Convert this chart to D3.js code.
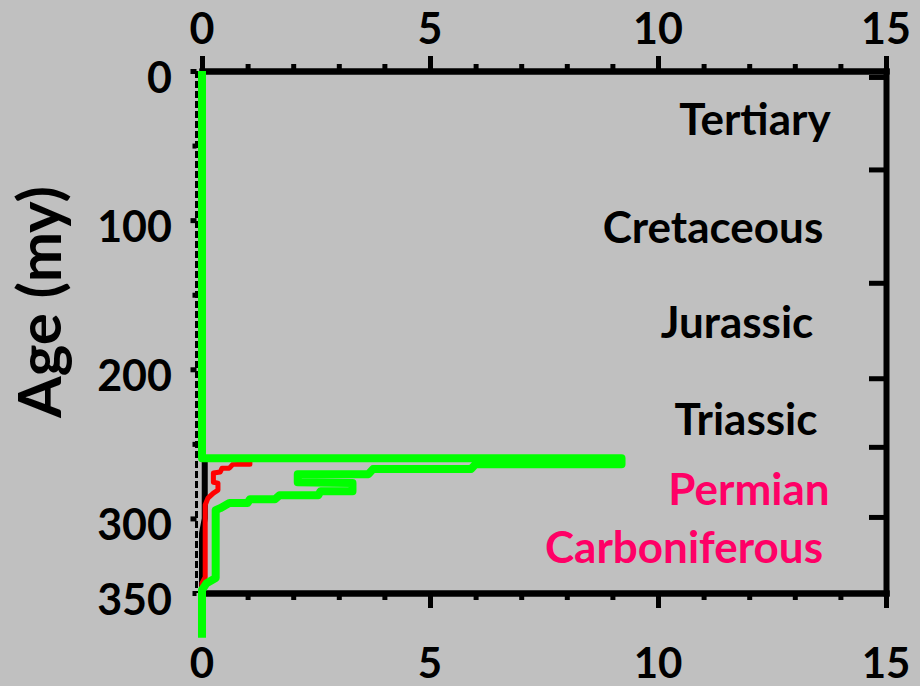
<!DOCTYPE html>
<html>
<head>
<meta charset="utf-8">
<script src="https://cdn.jsdelivr.net/npm/d3@7"></script>
<style>
  html, body { margin: 0; padding: 0; background: #c0c0c0; }
  svg { display: block; }
  text { font-family: Lato, "Noto Sans", sans-serif; font-weight: 700; }
</style>
</head>
<body>
<svg id="chart" width="920" height="686"></svg>
<script>
// Rate values (top/bottom axis) against age in millions of years (left axis, downward)
const greenValues = [0, 0, 9.2, 9.2, 6.0, 5.9, 3.75, 3.65, 2.1, 2.1, 3.3, 3.3, 2.6, 2.55, 1.7, 1.6, 1.05, 1.0, 0.6, 0.4, 0.3, 0.3, 0.1, 0, 0];
const greenAges   = [0, 259.6, 259.6, 263.6, 263.6, 266.9, 266.9, 270.3, 270.3, 275.7, 276.3, 281.7, 281.7, 284.4, 284.4, 287.1, 287.1, 289.7, 289.7, 293.1, 294.5, 340, 343.4, 348, 380];

const redValues = [0, 0, 1.05, 1.05, 0.68, 0.6, 0.44, 0.4, 0.25, 0.25, 0.35, 0.35, 0.25, 0.13, 0.07, 0.07, 0, 0];
const redAges   = [0, 259.6, 261, 263.6, 263.6, 266.3, 266.3, 268.9, 269.6, 275.7, 276.3, 281, 283, 286.4, 291, 339.4, 343.4, 348];

const blackValues = [0, 0.06, 0.06, 0.0, 0.0];
const blackAges   = [259.6, 260.5, 300, 310, 348];

// Axis ticks and labels
const valueTicks = [0, 5, 10, 15];
const valueMinorTicks = d3.range(0, 16, 1);
const ageTickLabels = ["0", "100", "200", "300", "350"];
const ageTicks = [0, 100, 200, 300, 350];
const ageMajorMarks = [0, 100, 200, 300];
const ageMinorMarks = [50, 150, 250, 350];

// Period boundaries (my) and period names
const periodBoundaries = [4, 66, 142, 206, 252, 299];
const periodNames = ["Tertiary", "Cretaceous", "Jurassic", "Triassic", "Permian", "Carboniferous"];
const periodLabelAges = [33, 105, 169, 234, 281, 320];
const periodLabelX = [755, 713, 737, 746, 749, 684];
const periodColors = ["#000000", "#000000", "#000000", "#000000", "#ff0066", "#ff0066"];

const svg = d3.select("#chart");
const x = d3.scaleLinear().domain([0, 15]).range([202, 886]);
const y = d3.scaleLinear().domain([0, 350]).range([71, 593]);

const toPts = (vals, ages) => vals.map((v, i) => [v, ages[i]]);
const line = d3.line().x(d => x(d[0])).y(d => y(d[1]));

const leftX = 196.5;

// Left axis: dashed line with ticks
svg.append("line")
  .attr("x1", leftX).attr("x2", leftX)
  .attr("y1", y(0)).attr("y2", y(350))
  .attr("stroke", "#000").attr("stroke-width", 3)
  .attr("stroke-dasharray", "7,3");

const leftMajor = svg.append("g").attr("transform", `translate(${leftX},0)`)
  .call(d3.axisLeft(y).tickValues(ageMajorMarks).tickSize(6).tickFormat(""));
const leftMinor = svg.append("g").attr("transform", `translate(${leftX},0)`)
  .call(d3.axisLeft(y).tickValues(ageMinorMarks).tickSize(4).tickFormat(""));
[leftMajor, leftMinor].forEach(g => {
  g.select(".domain").remove();
  g.selectAll(".tick line").attr("stroke", "#000").attr("stroke-width", 5);
});

// Right axis with period-boundary ticks pointing inward
const right = svg.append("g").attr("transform", "translate(886,0)")
  .call(d3.axisLeft(y).tickValues(periodBoundaries).tickSize(17).tickSizeOuter(0).tickFormat(""));
right.select(".domain").attr("stroke", "#000").attr("stroke-width", 6).attr("stroke-linecap", "square");
right.selectAll(".tick line").attr("stroke", "#000").attr("stroke-width", 5);

// Top axis
const topMinor = svg.append("g").attr("transform", `translate(0,${y(0)})`)
  .call(d3.axisTop(x).tickValues(valueMinorTicks).tickSize(7).tickSizeOuter(0).tickFormat(""));
const topMajor = svg.append("g").attr("transform", `translate(0,${y(0)})`)
  .call(d3.axisTop(x).tickValues(valueTicks).tickSize(15).tickSizeOuter(0).tickFormat(""));
// Bottom axis
const botMinor = svg.append("g").attr("transform", `translate(0,${y(350)})`)
  .call(d3.axisBottom(x).tickValues(valueMinorTicks).tickSize(7).tickSizeOuter(0).tickFormat(""));
const botMajor = svg.append("g").attr("transform", `translate(0,${y(350)})`)
  .call(d3.axisBottom(x).tickValues(valueTicks).tickSize(15).tickSizeOuter(0).tickFormat(""));
[topMinor, topMajor, botMinor, botMajor].forEach(g => {
  g.select(".domain").attr("stroke", "#000").attr("stroke-width", 6).attr("stroke-linecap", "square");
  g.selectAll(".tick line").attr("stroke", "#000").attr("stroke-width", 5);
});

// Value tick labels, top and bottom
svg.append("g").selectAll("text").data(valueTicks).join("text")
  .attr("x", d => x(d)).attr("y", 44)
  .attr("text-anchor", "middle").attr("font-size", 43).attr("fill", "#000")
  .text(d => d);
svg.append("g").selectAll("text").data(valueTicks).join("text")
  .attr("x", d => x(d)).attr("y", 678)
  .attr("text-anchor", "middle").attr("font-size", 42).attr("fill", "#000")
  .text(d => d);

// Age tick labels
svg.append("g").selectAll("text").data(ageTicks).join("text")
  .attr("x", 172).attr("y", d => y(d) + 22)
  .attr("text-anchor", "end").attr("font-size", 43).attr("fill", "#000")
  .text((d, i) => ageTickLabels[i]);

// Axis title
svg.append("text")
  .attr("transform", "translate(61,302) rotate(-90)")
  .attr("text-anchor", "middle").attr("font-size", 60).attr("fill", "#000")
  .text("Age (my)");

// Period names
svg.append("g").selectAll("text").data(periodNames).join("text")
  .attr("x", (d, i) => periodLabelX[i])
  .attr("y", (d, i) => y(periodLabelAges[i]) + 15)
  .attr("text-anchor", "middle").attr("font-size", 44)
  .attr("fill", (d, i) => periodColors[i])
  .text(d => d);

// Series
const series = [
  { pts: toPts(blackValues, blackAges), color: "#000000", width: 6 },
  { pts: toPts(redValues, redAges), color: "#ff0000", width: 5 },
  { pts: toPts(greenValues, greenAges), color: "#00ff00", width: 8 }
];
svg.append("g").selectAll("path").data(series).join("path")
  .attr("d", d => line(d.pts))
  .attr("fill", "none")
  .attr("stroke", d => d.color)
  .attr("stroke-width", d => d.width)
  .attr("stroke-linejoin", "round")
  .attr("stroke-linecap", "butt");
</script>
</body>
</html>
